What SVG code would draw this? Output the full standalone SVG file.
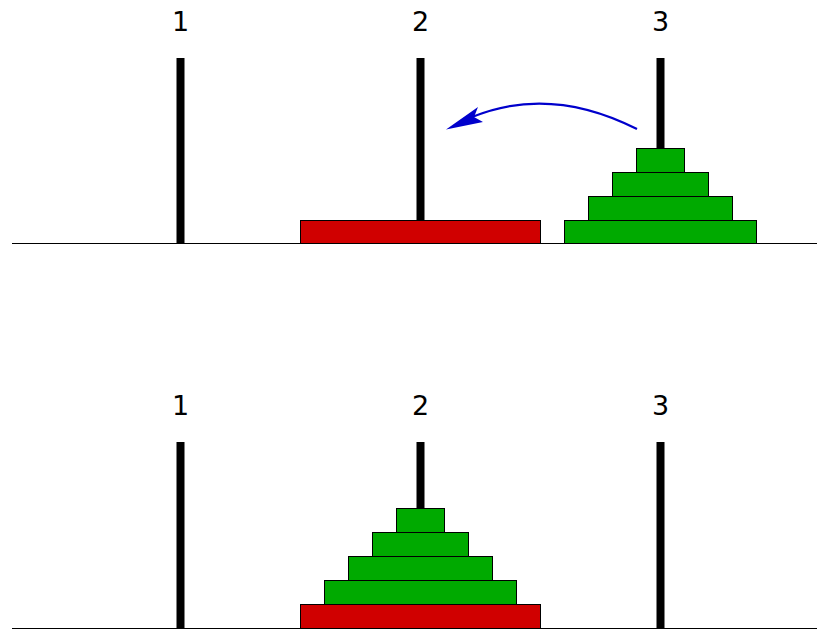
<svg xmlns="http://www.w3.org/2000/svg" width="817" height="629" viewBox="0 0 817 629">
<style>
.base{stroke:#000;stroke-width:1}
.peg{fill:#000}
.red{fill:#d00000;stroke:#000;stroke-width:1}
.green{fill:#00aa00;stroke:#000;stroke-width:1}
.lbl{font-family:"DejaVu Sans","Liberation Sans",sans-serif;font-size:27px;fill:#000;text-anchor:middle}
</style>
<rect width="817" height="629" fill="#fff"/>
<g id="top-state">
  <line class="base" x1="12" y1="243.5" x2="817" y2="243.5"/>
  <g id="top-peg1"><rect class="peg" x="176.5" y="58" width="8" height="185"/><text class="lbl" x="180.5" y="31">1</text></g>
  <g id="top-peg2"><rect class="peg" x="416.5" y="58" width="8" height="185"/><text class="lbl" x="420.5" y="31">2</text></g>
  <g id="top-peg3"><rect class="peg" x="656.5" y="58" width="8" height="185"/><text class="lbl" x="660.5" y="31">3</text></g>
  <g id="top-red"><rect class="red" x="300.5" y="220.5" width="240" height="23"/></g>
  <g id="top-green1"><rect class="green" x="564.5" y="220.5" width="192" height="23"/></g>
  <g id="top-green2"><rect class="green" x="588.5" y="196.5" width="144" height="24"/></g>
  <g id="top-green3"><rect class="green" x="612.5" y="172.5" width="96" height="24"/></g>
  <g id="top-green4"><rect class="green" x="636.5" y="148.5" width="48" height="24"/></g>
</g>
<g id="connectors">
  <path d="M637,129 Q550,85 472,117" fill="none" stroke="#0000cc" stroke-width="2.2"/>
  <polygon points="446,129.5 478,107 474,117 483,122" fill="#0000cc"/>
</g>
<g id="bottom-state">
  <line class="base" x1="12" y1="628.5" x2="817" y2="628.5"/>
  <g id="bot-peg1"><rect class="peg" x="176.5" y="442" width="8" height="186"/><text class="lbl" x="180.5" y="415">1</text></g>
  <g id="bot-peg2"><rect class="peg" x="416.5" y="442" width="8" height="186"/><text class="lbl" x="420.5" y="415">2</text></g>
  <g id="bot-peg3"><rect class="peg" x="656.5" y="442" width="8" height="186"/><text class="lbl" x="660.5" y="415">3</text></g>
  <g id="bot-red"><rect class="red" x="300.5" y="604.5" width="240" height="24"/></g>
  <g id="bot-green1"><rect class="green" x="324.5" y="580.5" width="192" height="24"/></g>
  <g id="bot-green2"><rect class="green" x="348.5" y="556.5" width="144" height="24"/></g>
  <g id="bot-green3"><rect class="green" x="372.5" y="532.5" width="96" height="24"/></g>
  <g id="bot-green4"><rect class="green" x="396.5" y="508.5" width="48" height="24"/></g>
</g>
</svg>
